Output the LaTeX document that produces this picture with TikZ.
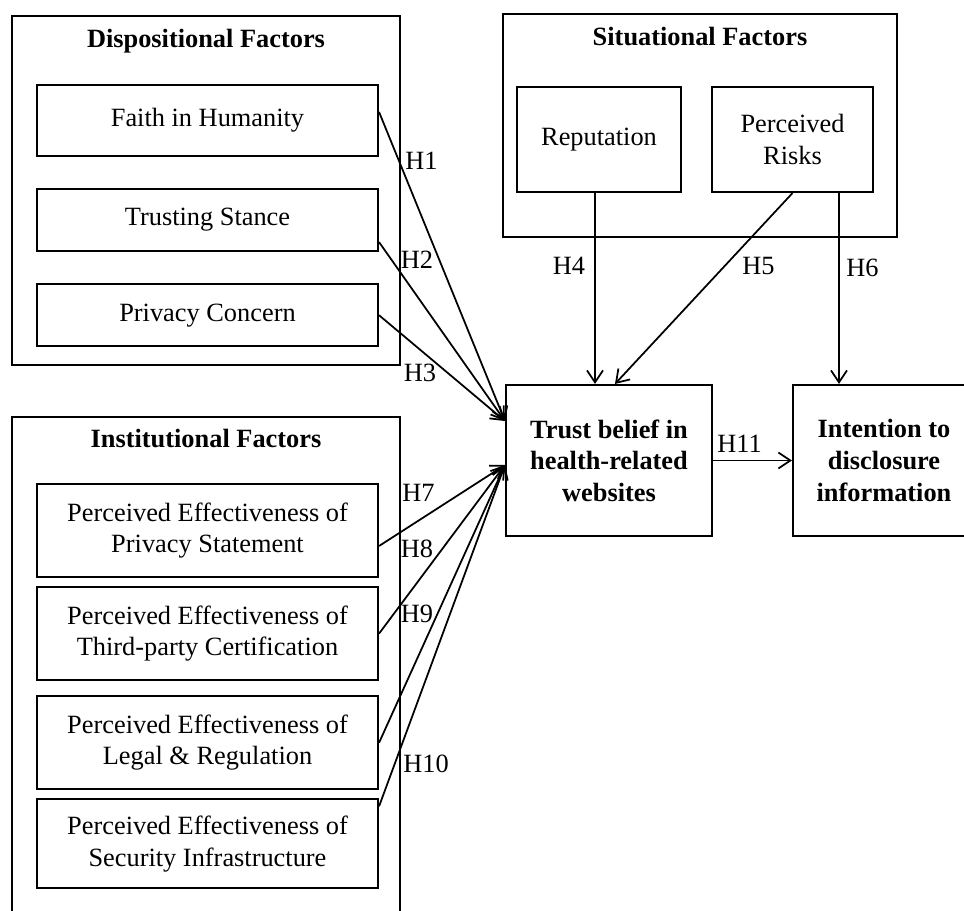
\documentclass[tikz,border=0pt]{standalone}
\usepackage{fontspec}
\setmainfont{Liberation Serif}
\usetikzlibrary{arrows.meta,positioning}

\newcommand{\figfont}{\fontsize{15}{18}\selectfont}
\tikzstyle{groupBox} = [draw=black, line width=1.2pt, rectangle, inner sep=0pt]
\tikzstyle{factorBox} = [draw=black, line width=1.2pt, rectangle,
    inner sep=0pt, align=center, minimum width=6.82cm]
\tikzstyle{mainBox} = [draw=black, line width=1.2pt, rectangle,
    inner sep=0pt, align=center, font=\figfont\bfseries]
\tikzstyle{title} = [font=\figfont\bfseries, anchor=base]
\tikzstyle{hyp} = [inner sep=0pt]
\tikzstyle{arr} = [line width=1pt, -{Straight Barb[length=2.4mm,width=3.2mm]}]

\begin{document}
\begin{tikzpicture}[font=\figfont]

\useasboundingbox (0,0) rectangle (19.28,-18.22);
\clip (0,0) rectangle (19.28,-18.22);

% dispositional
\node[groupBox, minimum width=7.76cm, minimum height=6.98cm] (disp) at (4.12,-3.81) {};
\node[title] (dispT) at (4.12,-0.96) {Dispositional Factors};
\node[factorBox, minimum height=1.42cm] (faith) at (4.15,-2.41) {Faith in Humanity};
\node[factorBox, minimum height=1.24cm, below=0.62cm of faith] (stance) {Trusting Stance};
\node[factorBox, minimum height=1.24cm, below=0.62cm of stance] (privacy) {Privacy Concern};

% institutional
\node[groupBox, minimum width=7.76cm, minimum height=11cm, anchor=north] (inst) at (4.12,-8.32) {};
\node[title] (instT) at (4.12,-8.94) {Institutional Factors};
\node[factorBox, minimum height=1.86cm] (statement) at (4.15,-10.61)
    {Perceived Effectiveness of\\Privacy Statement};
\node[factorBox, minimum height=1.86cm, below=0.16cm of statement] (certif)
    {Perceived Effectiveness of\\Third-party Certification};
\node[factorBox, minimum height=1.86cm, below=0.28cm of certif] (legal)
    {Perceived Effectiveness of\\Legal \& Regulation};
\node[factorBox, minimum height=1.78cm, below=0.16cm of legal] (security)
    {Perceived Effectiveness of\\Security Infrastructure};

% situational
\node[groupBox, minimum width=7.88cm, minimum height=4.46cm] (sit) at (14.0,-2.51) {};
\node[title] (sitT) at (14.0,-0.92) {Situational Factors};
\node[factorBox, minimum width=3.28cm, minimum height=2.1cm] (rep) at (11.98,-2.79) {Reputation};
\node[factorBox, minimum width=3.22cm, minimum height=2.1cm] (risk) at (15.85,-2.79) {Perceived\\Risks};

% outcomes
\node[mainBox, minimum width=4.12cm, minimum height=3.02cm] (trust) at (12.18,-9.21)
    {Trust belief in\\health-related\\websites};
\node[mainBox, minimum width=3.64cm, minimum height=3.02cm] (intent) at (17.68,-9.21)
    {Intention to\\disclosure\\information};

\coordinate (inUp) at ([yshift=7.9mm]trust.west);
\coordinate (inLow) at ([yshift=-0.9mm]trust.west);

\draw[arr] ([yshift=1.7mm]faith.east) -- (inUp);
\draw[arr] ([yshift=-4.4mm]stance.east) -- (inUp);
\draw[arr] (privacy.east) -- (inUp);
\draw[arr] ([yshift=-3.1mm]statement.east) -- (inLow);
\draw[arr] (certif.east) -- (inLow);
\draw[arr] (legal.east) -- (inLow);
\draw[arr] ([yshift=7.5mm]security.east) -- (inLow);
\draw[arr] ([xshift=-0.8mm]rep.south) -- ([xshift=-0.8mm]rep.south |- trust.north);
\draw[arr] (risk.south) -- ([xshift=1.2mm]trust.north);
\draw[arr] ([xshift=9.3mm]risk.south) -- ([xshift=9.3mm]risk.south |- intent.north);
\draw[arr] (trust) -- (intent);

\node[hyp] (h1) at (8.43,-3.21) {H1};
\node[hyp] (h2) at (8.34,-5.19) {H2};
\node[hyp] (h3) at (8.40,-7.46) {H3};
\node[hyp] (h4) at (11.38,-5.32) {H4};
\node[hyp] (h5) at (15.17,-5.32) {H5};
\node[hyp] (h6) at (17.25,-5.36) {H6};
\node[hyp] (h7) at (8.37,-9.86) {H7};
\node[hyp] (h8) at (8.34,-10.97) {H8};
\node[hyp] (h9) at (8.34,-12.28) {H9};
\node[hyp] (h10) at (8.52,-15.27) {H10};
\node[hyp] (h11) at (14.79,-8.88) {H11};

\end{tikzpicture}
\end{document}
